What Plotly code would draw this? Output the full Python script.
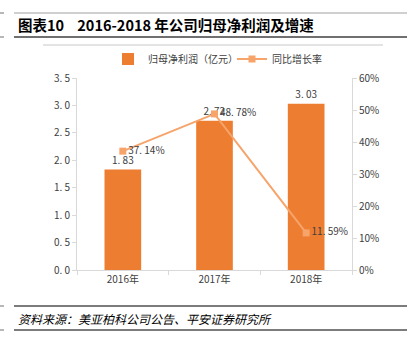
import plotly.graph_objects as go

categories = ["2016年", "2017年", "2018年"]
profit = [1.83, 2.72, 3.03]
profit_labels = ["1. 83", "2. 72", "3. 03"]
growth = [37.14, 48.78, 11.59]
growth_labels = ["37. 14%", "48. 78%", "11. 59%"]
left_ticks = [0, 0.5, 1.0, 1.5, 2.0, 2.5, 3.0, 3.5]
left_ticktext = ["0. 0", "0. 5", "1. 0", "1. 5", "2. 0", "2. 5", "3. 0", "3. 5"]
right_ticks = [0, 10, 20, 30, 40, 50, 60]
right_ticktext = ["0%", "10%", "20%", "30%", "40%", "50%", "60%"]

BAR = "#ED7D31"
LINE = "#F6A46A"
FONT = "Noto Sans CJK SC"
TXT = "#404040"

L, R, T, B = 77, 352, 78, 270
W, H = R - L, B - T

fig = go.Figure()
fig.add_trace(go.Bar(
    x=categories, y=profit, name="归母净利润（亿元）", legend="legend",
    marker=dict(color=BAR, line=dict(width=0)), width=0.4,
    text=profit_labels, textposition="outside", cliponaxis=False,
    textfont=dict(size=10, color=TXT, family=FONT),
))
fig.add_trace(go.Scatter(
    x=categories, y=growth, name="同比增长率", yaxis="y2", legend="legend2",
    mode="lines+markers+text",
    line=dict(color=LINE, width=2),
    marker=dict(symbol="square", size=7, color=LINE),
    text=growth_labels, textposition="middle right", cliponaxis=False,
    textfont=dict(size=10, color=TXT, family=FONT),
))

legend_common = dict(orientation="h", xanchor="left", yanchor="middle",
                     y=(B - 59) / H, itemwidth=30,
                     font=dict(size=10, color=TXT), bgcolor="rgba(0,0,0,0)")

fig.update_layout(
    width=407, height=345,
    margin=dict(l=L, r=407 - R, t=T, b=345 - B, autoexpand=False),
    paper_bgcolor="white", plot_bgcolor="white",
    font=dict(family=FONT, size=10, color=TXT),
    showlegend=True,
    legend=dict(x=(108 - L) / W, **legend_common),
    legend2=dict(x=(232 - L) / W, **legend_common),
    xaxis=dict(showline=True, linecolor="#D9D9D9", linewidth=1, ticks="outside",
               tickson="boundaries", tickcolor="#D9D9D9", ticklen=4,
               tickfont=dict(size=10, color=TXT)),
    yaxis=dict(range=[0, 3.5], tickvals=left_ticks, ticktext=left_ticktext,
               showgrid=False, zeroline=False, showline=True, linecolor="#D9D9D9",
               ticks="outside", tickcolor="#D9D9D9", ticklen=4,
               tickfont=dict(size=10, color=TXT)),
    yaxis2=dict(range=[0, 60], tickvals=right_ticks, ticktext=right_ticktext,
                overlaying="y", side="right", showgrid=False, zeroline=False,
                showline=True, linecolor="#D9D9D9", ticks="outside",
                tickcolor="#D9D9D9", ticklen=4,
                tickfont=dict(size=10, color=TXT)),
)


def hline(y, x0, x1, color, w):
    return dict(type="line", xref="paper", yref="paper",
                x0=(x0 - L) / W, x1=(x1 - L) / W,
                y0=(B - y) / H, y1=(B - y) / H,
                line=dict(color=color, width=w))


fig.update_layout(shapes=[
    hline(13, 14, 407, "#A0A0A0", 1),
    hline(37, 14, 407, "#707070", 2),
    hline(45, 43, 383, "#C8C8C8", 1),
    hline(306, 14, 407, "#505050", 1.5),
    hline(330, 14, 407, "#505050", 1.5),
    hline(13, 0, 4, "#707070", 1),
    hline(37, 0, 4, "#707070", 1),
    hline(306, 0, 4, "#707070", 1),
    hline(330, 0, 4, "#707070", 1),
])
fig.add_annotation(text="<b>图表10    2016-2018 年公司归母净利润及增速</b>",
                   xref="paper", yref="paper", x=(16 - L) / W, y=(B - 25) / H,
                   xanchor="left", yanchor="middle", showarrow=False,
                   font=dict(size=14.5, color="#000000", family=FONT))
fig.add_annotation(text="<i>资料来源：美亚柏科公司公告、平安证券研究所</i>",
                   xref="paper", yref="paper", x=(16 - L) / W, y=(B - 318) / H,
                   xanchor="left", yanchor="middle", showarrow=False,
                   font=dict(size=12, color="#000000", family=FONT))

fig.write_html("out.html")
